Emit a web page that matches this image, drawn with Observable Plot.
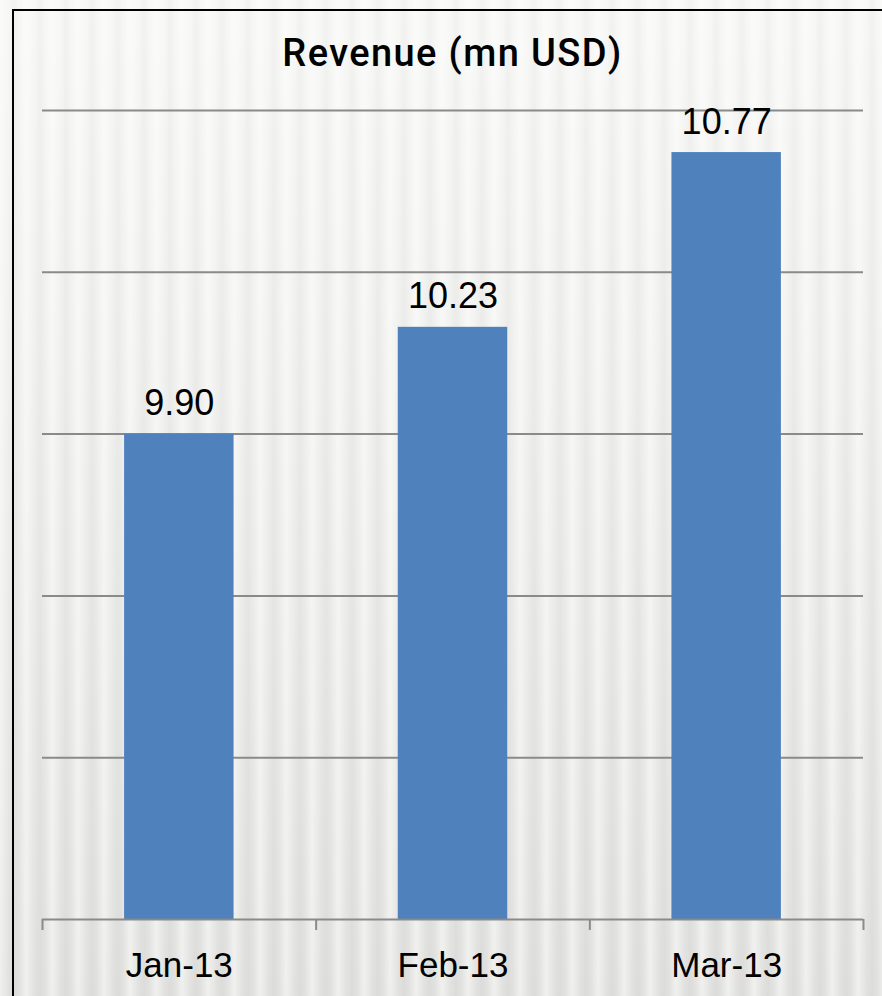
<!DOCTYPE html>
<html>
<head>
<meta charset="utf-8">
<script src="https://cdn.jsdelivr.net/npm/d3@7"></script>
<script src="https://cdn.jsdelivr.net/npm/@observablehq/plot@0.6"></script>
<style>
  html, body { margin: 0; padding: 0; }
  body {
    width: 882px; height: 996px; overflow: hidden; position: relative;
    font-family: "Liberation Sans", Arial, sans-serif; color: #000;
    background:
      repeating-linear-gradient(90deg,
        rgba(255,255,255,0.5) 0px, rgba(255,255,255,0) 9px,
        rgba(0,0,0,0.025) 14px, rgba(255,255,255,0) 19px,
        rgba(255,255,255,0.5) 26px),
      linear-gradient(180deg, #f7f7f6 0%, #efefed 40%, #e1e1df 100%);
  }
  #frame {
    position: absolute; left: 12px; top: 9px; width: 900px; height: 1010px;
    border: 2px solid #000; box-sizing: border-box; pointer-events: none;
  }
  #title {
    position: relative; height: 80px; box-sizing: border-box;
    padding-top: 34px; margin-left: 42px; width: 821px;
    text-align: center; font-family: Roboto, "Liberation Sans", sans-serif;
    font-size: 38px; line-height: 38px; font-weight: 500;
    letter-spacing: 1.4px;
  }
  #chart { position: relative; }
</style>
</head>
<body>
<div id="frame"></div>
<div id="title">Revenue (mn USD)</div>
<div id="chart"></div>
<script>
const months = ["Jan-13", "Feb-13", "Mar-13"];
const revenue = [9.90, 10.23, 10.77];
const yTicks = [8.4, 8.9, 9.4, 9.9, 10.4, 10.9];

const data = months.map((m, i) => ({ month: m, value: revenue[i], i }));
const barGap = 0.3;
const axisGray = "#8a8a8a";

const chart = Plot.plot({
  width: 882,
  height: 916,
  marginLeft: 42,
  marginRight: 19,
  marginTop: 30,
  marginBottom: 77,
  style: { background: "transparent", fontFamily: "Liberation Sans, Arial, sans-serif", color: "#000", overflow: "visible" },
  x: { type: "linear", domain: [0, months.length], axis: null },
  y: { domain: [yTicks[0], yTicks[yTicks.length - 1]], axis: null },
  marks: [
    Plot.gridY(yTicks.slice(1), { stroke: axisGray, strokeOpacity: 1, strokeWidth: 2 }),
    Plot.rect(data, {
      x1: d => d.i + barGap,
      x2: d => d.i + 1 - barGap,
      y1: () => yTicks[0],
      y2: "value",
      fill: "#4f81bd"
    }),
    Plot.ruleY([yTicks[0]], { stroke: axisGray, strokeWidth: 2 }),
    Plot.axisX(d3.range(months.length + 1), {
      tickSize: 11, tickFormat: () => "", stroke: axisGray, strokeWidth: 2
    }),
    Plot.axisX(data.map(d => d.i + 0.5), {
      tickSize: 0, tickPadding: 33, fontSize: 35, fill: "#000",
      tickFormat: v => months[Math.floor(v)]
    }),
    Plot.text(data, {
      x: d => d.i + 0.5,
      y: "value",
      text: d => d.value.toFixed(2),
      dy: -19,
      lineAnchor: "bottom",
      fontSize: 36,
      fill: "#000"
    })
  ]
});
document.getElementById("chart").appendChild(chart);
</script>
</body>
</html>
